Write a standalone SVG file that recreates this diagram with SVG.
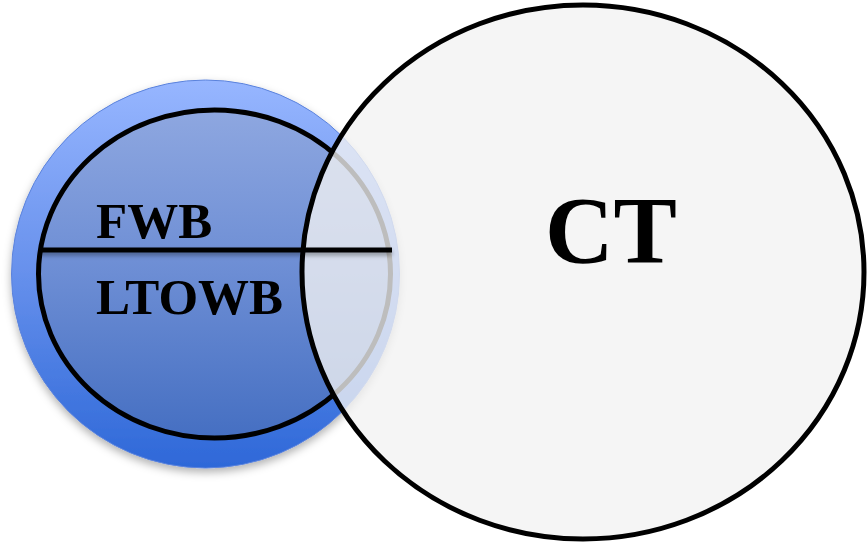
<svg xmlns="http://www.w3.org/2000/svg" width="867" height="544" viewBox="0 0 867 544">
<style>
text{font-family:'Liberation Serif','Times New Roman',Times,serif;font-weight:700;fill:#000}
.blk{stroke:#000;stroke-width:5}
</style>
<defs>
<linearGradient id="gOuter" x1="0" y1="0" x2="0" y2="1">
<stop offset="0" stop-color="#97b6ff"/>
<stop offset="0.5" stop-color="#6690ec"/>
<stop offset="1" stop-color="#2e68d8"/>
</linearGradient>
<linearGradient id="gInner" x1="0" y1="0" x2="0" y2="1">
<stop offset="0" stop-color="#8ea7e0"/>
<stop offset="0.5" stop-color="#6c8dd4"/>
<stop offset="1" stop-color="#456fc2"/>
</linearGradient>
<filter id="sh" x="-10%" y="-10%" width="120%" height="125%">
<feDropShadow dx="0" dy="4" stdDeviation="4" flood-color="#000" flood-opacity="0.3"/>
</filter>
<filter id="lsh" filterUnits="userSpaceOnUse" x="20" y="235" width="390" height="35">
<feDropShadow dx="0" dy="3" stdDeviation="2" flood-color="#000" flood-opacity="0.35"/>
</filter>
</defs>
<rect width="867" height="544" fill="#fff"/>
<g id="outer">
<circle cx="205.5" cy="274" r="194" fill="url(#gOuter)" stroke="#5a82dc" stroke-width="1" filter="url(#sh)"/>
</g>
<g id="inner">
<ellipse cx="214.5" cy="274" rx="176" ry="164" fill="url(#gInner)" class="blk"/>
</g>
<g id="ct">
<ellipse cx="583" cy="272" rx="281" ry="267" fill="#f2f2f2" fill-opacity="0.78" class="blk"/>
<text x="611" y="263" font-size="95" text-anchor="middle">CT</text>
</g>
<g id="connectors">
<path d="M39 250 H392" fill="none" class="blk" filter="url(#lsh)"/>
</g>
<g id="fwb">
<text x="96" y="238" font-size="51">FWB</text>
</g>
<g id="ltowb">
<text x="96" y="314" font-size="51">LTOWB</text>
</g>
</svg>
